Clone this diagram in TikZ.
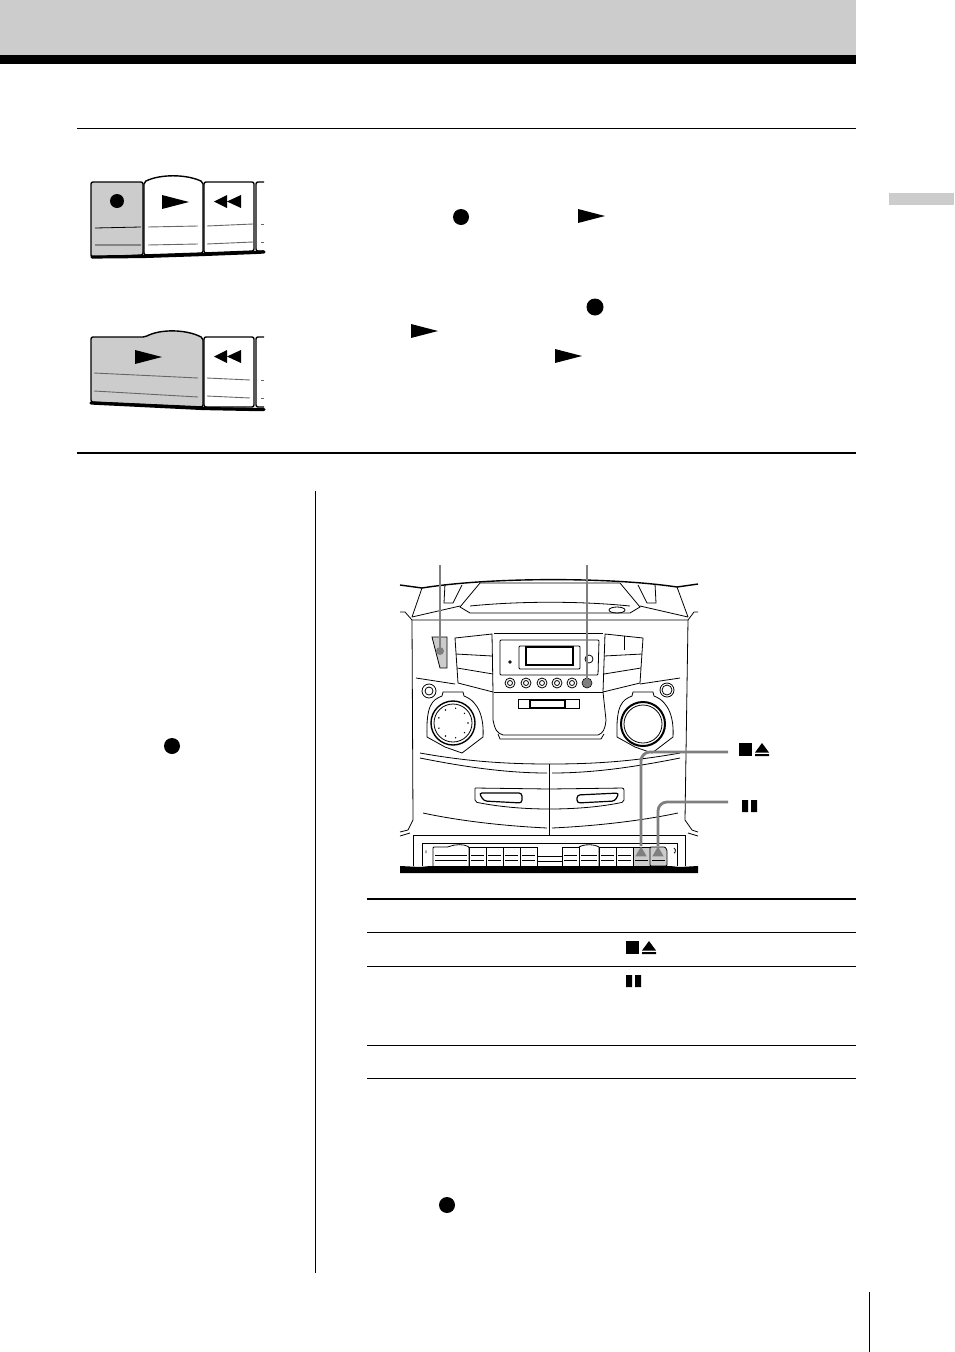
\documentclass[tikz,border=0pt]{standalone}
\usetikzlibrary{calc,shapes.geometric}

\definecolor{panelgray}{HTML}{CCCCCC}
\definecolor{leadgray}{HTML}{7F7F7F}

\tikzset{
  rulethin/.style={draw=black, line width=0.8pt},
  rulethick/.style={draw=black, line width=1.6pt},
  recdot/.style={circle, fill=black, inner sep=0pt, minimum size=16pt},
  leaddot/.style={circle, fill=leadgray, inner sep=0pt, minimum size=8pt},
  leaddome/.style={regular polygon, regular polygon sides=3, fill=leadgray, inner sep=0pt, minimum size=13pt},
  leadline/.style={draw=leadgray, line width=2.8pt, rounded corners=9pt},
  keyedge/.style={draw=black, line width=1.4pt, rounded corners=2pt},
  keyline/.style={draw=black!60, line width=0.9pt},
  unit/.style={draw=black, line width=0.8pt},
  unitthick/.style={draw=black, line width=1.2pt},
  playtri/.pic={\fill[black] (0,0) -- (27,7) -- (0,14) -- cycle;},
  rewtri/.pic={\fill[black] (27,0) -- (13,6.5) -- (27,13) -- cycle (13,0) -- (0,6.5) -- (13,13) -- cycle;},
  stopeject/.pic={
    \fill[black] (0,0) rectangle (13,13);
    \fill[black] (16,9.5) -- (30,9.5) -- (23,0) -- cycle (16,11) rectangle (30,13);},
  pausebars/.pic={\fill[black] (0,0) rectangle (6,12) (9,0) rectangle (15,12);},
}

\begin{document}
\begin{tikzpicture}[x=1pt, y=-1pt]
  \useasboundingbox (0,0) rectangle (954,1352);

  % page furniture
  \fill[panelgray] (0,0) rectangle (856,55);
  \fill[black] (0,55) rectangle (856,64);
  \fill[panelgray] (889,193) rectangle (954,205);
  \draw[rulethin] (77,128.5) -- (856,128.5);
  \draw[rulethick] (77,453) -- (856,453);
  \draw[rulethin] (315.5,491) -- (315.5,1273);
  \draw[rulethin] (869.5,1292) -- (869.5,1352);

  % first row of keys
  \draw[keyedge, fill=panelgray] (91,182) -- (143,182) -- (143,255) -- (91,257) -- cycle;
  \draw[keyedge] (144,182) .. controls (160,174) and (186,174) .. (203,182) -- (203,253) -- (144,255) -- cycle;
  \draw[keyedge] (204,182) -- (254,182) -- (254,251) -- (204,253) -- cycle;
  \draw[keyedge] (264,182) -- (256,182) -- (256,251) -- (264,251);
  \draw[line width=3.2pt, line cap=round] (92,257) -- (143,256.5) -- (203,254.5) -- (254,252.5) -- (264,252);
  \draw[black, line width=0.8pt] (95,228) -- (141,227) (95,245) -- (141,245);
  \draw[keyline] (148,227) -- (198,226) (148,245) -- (198,244);
  \draw[keyline] (207,226) -- (253,224) (207,244) -- (253,242);
  \draw[keyline] (261,224) -- (264,224) (261,242) -- (264,242);
  \node[recdot, minimum size=14pt] (keydot) at (117,201) {};
  \pic at (162,195) {playtri};
  \pic at (214,195) {rewtri};

  % second row of keys
  \draw[keyedge, fill=panelgray] (91,337) -- (145,337) .. controls (160,329) and (186,329) .. (203,338) -- (203,407) -- (91,402) -- cycle;
  \draw[keyedge] (204,337) -- (254,337) -- (254,407) -- (204,407) -- cycle;
  \draw[keyedge] (264,337) -- (256,337) -- (256,407) -- (264,407);
  \draw[line width=3.2pt, line cap=round] (91,403) -- (203,408.5) -- (254,409.5) -- (264,409.5);
  \draw[keyline] (94,373) -- (198,378) (94,391) -- (198,397);
  \draw[keyline] (207,378) -- (250,380) (207,396) -- (250,398);
  \draw[keyline] (261,380) -- (264,380) (261,398) -- (264,398);
  \pic at (135,350) {playtri};
  \pic at (214,350) {rewtri};

  % symbols standing in the text
  \node[recdot] (dotone) at (461,217) {};
  \node[recdot, minimum size=17pt] (dottwo) at (595,307) {};
  \node[recdot] (dotthree) at (172,746) {};
  \node[recdot] (dotfour) at (447,1205) {};
  \pic at (578,209) {playtri};
  \pic at (411,324) {playtri};
  \pic at (555,349) {playtri};

  % outer body of the player
  \draw[line width=1.4pt] (400,585) -- (422,588) .. controls (490,577) and (610,577) .. (677,587) -- (698,584);
  \draw[unit] (422,588) -- (412,617) (677,587) -- (688,617);
  \draw[unit] (400,612) -- (405,612) -- (412,620) -- (688,620) -- (694,612) -- (698,612);
  \draw[unit] (412,620) -- (413,820) -- (408,830) -- (400,832);
  \draw[unit] (688,620) -- (685,820) -- (692,830) -- (698,832);
  \draw[unit] (412,617) -- (460,606) (688,617) -- (640,606);
  \draw[unit] (460,607) -- (480,583) -- (620,583) -- (640,607) -- (630,613) -- (470,613) -- cycle;
  \draw[unit] (470,606) .. controls (520,601) and (580,601) .. (630,606);
  \draw[unit] (617,610) ellipse (8pt and 3pt);
  \draw[unit] (445,584) -- (444,603) -- (453,603) -- (462,585) (655,584) -- (656,603) -- (647,603) -- (638,585);

  % front panel
  \draw[unit, fill=panelgray] (432,637) -- (447,637) -- (447,668) -- (440,668) -- cycle;
  \draw[unit] (455,638) -- (492,634) -- (493,692) -- (458,683) -- cycle;
  \draw[unit] (456,654) -- (492,656) (457,668) -- (493,674);
  \draw[unit] (605,634) -- (643,638) -- (640,683) -- (603,692) -- cycle;
  \draw[unit] (604,656) -- (642,654) (604,674) -- (641,668);
  \draw[unit] (624,636) -- (624,650);
  \draw[unit] (494,633) -- (603,633) (494,692) -- (603,692);
  \draw[unit, rounded corners=1pt] (500,640) -- (599,640) -- (598,675) -- (500,675) -- cycle;
  \draw[unit, rounded corners=1pt] (519,646) rectangle (580,669);
  \draw[unitthick] (526,647) rectangle (573,665);
  \draw[unit] (510,662) circle (1.2pt) (589,659) circle (4pt);
  \foreach \bx/\bname in {510/one, 526/two, 542/three, 557/four, 572/five} {
    \draw[unit] (\bx,683) circle (5pt) (\bx,683) circle (2.5pt);
  }
  \node[circle, draw=black, line width=0.6pt, fill=leadgray, inner sep=0pt, minimum size=10pt] (onbutton) at (587,683) {};
  \draw[unit] (518,699) rectangle (579,708);
  \draw[unitthick] (530,700) rectangle (565,708);
  \draw[unit] (493,692) -- (493,720) .. controls (495,730) and (497,733) .. (503,735) -- (598,735) .. controls (603,733) and (605,730) .. (606,720) -- (603,692);
  \draw[unit] (498,734) -- (500,739) -- (601,739) -- (604,734);

  % knobs
  \draw[unit] (429,691) circle (7pt) (429,691) circle (4pt);
  \draw[unit] (667,690) circle (7pt) (667,690) circle (5pt);
  \draw[unit] (416,678) -- (455,684);
  \draw[unit] (680,678) -- (640,684);
  \draw[unit] (427,737) .. controls (426,705) and (432,700) .. (442,696) -- (443,692) -- (463,692) -- (464,696) .. controls (480,702) and (484,720) .. (483,737) -- (462,753) -- (445,747) -- cycle;
  \draw[unit] (617,737) .. controls (616,705) and (622,700) .. (632,696) -- (633,692) -- (653,692) -- (654,696) .. controls (670,702) and (674,720) .. (673,737) -- (652,753) -- (635,747) -- cycle;
  \draw[line width=1.4pt] (453,723) circle (22pt);
  \draw[unit] (453,723) circle (19pt);
  \foreach \ang in {0,40,...,320} {
    \fill[black] ($(453,723)+(\ang:15pt)$) circle (0.8pt);
  }
  \draw[line width=2pt] (643,724) circle (22pt);
  \draw[unit] (643,724) circle (19pt);

  % tape section
  \draw[unit] (420,753) .. controls (470,762) and (510,764) .. (550,764) .. controls (590,764) and (630,762) .. (680,753);
  \draw[unit] (420,758) .. controls (470,768) and (510,773) .. (547,773) (552,773) .. controls (590,773) and (630,768) .. (680,758);
  \draw[unit] (549,764) -- (549,835);
  \draw[unit, rounded corners=2pt] (475,788) -- (549,789) (475,788) -- (475,802) .. controls (500,807) and (525,809) .. (549,809);
  \draw[unit, rounded corners=2pt] (549,789) -- (624,788) -- (624,802) .. controls (600,807) and (575,809) .. (549,809);
  \draw[unitthick, rounded corners=3pt] (479,793) -- (522,793) -- (522,803) -- (484,801) -- cycle;
  \draw[unitthick, rounded corners=3pt] (577,795) -- (619,793) -- (615,801) -- (577,803) -- cycle;
  \draw[unit] (423,813) .. controls (460,821) and (505,826) .. (547,828);
  \draw[unit] (552,828) .. controls (595,826) and (640,821) .. (678,813);
  \draw[unit] (413,835) -- (685,835);
  \draw[unit] (400,836) -- (410,833) (698,836) -- (688,833);

  % deck keys
  \draw[unit] (422,866) -- (422,843) -- (677,843) -- (677,866);
  \draw[unit] (413,835) -- (413,866) (685,835) -- (685,866);
  \draw[unit] (537,856) -- (562,856) (537,861) -- (562,861);
  \draw[unit, fill=white, rounded corners=1pt] (433,866) -- (433,847) -- (448,847) .. controls (455,844) and (464,844) .. (469,847) -- (469,866);
  \foreach \kl/\kr in {469/486, 486/503, 503/520, 520/537, 562/579, 599/616, 616/633} {
    \draw[unit] (\kl,847) -- (\kr,847) -- (\kr,866) (\kl,847) -- (\kl,866);
    \draw[unit] (\kl+2,855) -- (\kr-2,855) (\kl+2,860) -- (\kr-2,860);
  }
  \draw[unit] (579,847) .. controls (584,844) and (594,844) .. (599,847) -- (599,866);
  \draw[unit] (581,855) -- (597,855) (581,860) -- (597,860);
  \draw[unit] (435,855) -- (467,855) (435,860) -- (467,860);
  \draw[unit, fill=panelgray] (633,847) rectangle (650,866);
  \draw[unit, fill=panelgray, rounded corners=1pt] (650,847) -- (665,847) -- (667,850) -- (667,866) -- (650,866) -- cycle;
  \draw[unit] (635,860) -- (648,860) (652,860) -- (665,860);
  \draw[unit] (426,853) arc (200:160:4pt) (674,848) arc (60:-60:3pt);
  \fill[black] (400,866) -- (420,867) -- (430,866) -- (670,866) -- (680,867) -- (698,866) -- (698,873) -- (400,873) -- cycle;

  % leaders
  \coordinate (toprec) at (440,565);
  \coordinate (topon) at (587,565);
  \coordinate (stopend) at (728,752);
  \coordinate (pauseend) at (728,802);
  \node[leaddot] (recend) at (440,651) {};
  \node[leaddot] (onend) at (587,683) {};
  \node[leaddome] (stopkey) at (641,853) {};
  \node[leaddome] (pausekey) at (658,853) {};
  \draw[leadline] (toprec) -- (recend);
  \draw[leadline] (topon) -- (onend);
  \draw[leadline] (stopend) -| (stopkey);
  \draw[leadline] (pauseend) -| (pausekey);
  \pic at (739,743) {stopeject};
  \pic at (742,800) {pausebars};

  % table
  \draw[line width=2.2pt] (367,899) -- (856,899);
  \foreach \ry in {932.5, 966.5, 1045.5, 1078.5} {
    \draw[rulethin] (367,\ry) -- (856,\ry);
  }
  \pic at (626,941) {stopeject};
  \pic at (626,975) {pausebars};
\end{tikzpicture}
\end{document}
